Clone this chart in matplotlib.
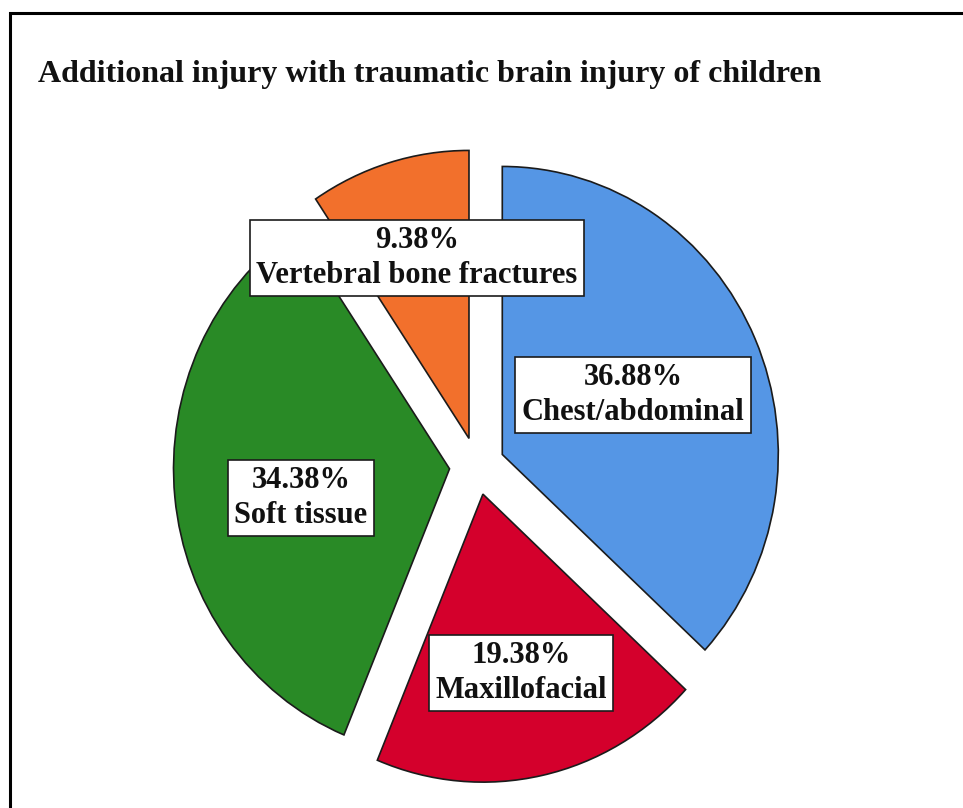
import matplotlib
matplotlib.use("Agg")
import matplotlib.pyplot as plt
from matplotlib.patches import Rectangle

# ---- data ----
categories = ["Chest/abdominal", "Maxillofacial", "Soft tissue", "Vertebral bone fractures"]
percentages = [36.88, 19.38, 34.38, 9.38]
colors = ["#5596E5", "#D4002C", "#298A26", "#F2702C"]
title = "Additional injury with traumatic brain injury of children"

# ---- layout (pixels) ----
W, H = 963, 808
cx, cy = 477, 466          # pie centre in pixels (from top-left)
rx, ry = 276, 288          # pie radii in pixels
label_px = [(633, 395), (521, 673), (301, 498), (417, 258)]

fig = plt.figure(figsize=(W / 100, H / 100), dpi=100)
fig.patch.set_facecolor("white")
ax = fig.add_axes([0, 0, 1, 1])

ax.pie(percentages, colors=colors, startangle=90, counterclock=False,
       explode=[0.1] * len(percentages), radius=1.0,
       wedgeprops=dict(edgecolor="#1b1b1b", linewidth=1.2))
ax.set_aspect("auto")
ax.set_xlim(-cx / rx, (W - cx) / rx)
ax.set_ylim((cy - H) / ry, cy / ry)
ax.axis("off")

serif = ["Liberation Serif", "DejaVu Serif"]

for (px, py), cat, pct in zip(label_px, categories, percentages):
    fig.text(px / W, 1 - py / H, f"{pct:.2f}%\n{cat}", ha="center", va="center",
             multialignment="center", family=serif, fontweight="bold",
             fontsize=22, linespacing=1.25, color="#111111",
             bbox=dict(boxstyle="square,pad=0.22", facecolor="white",
                       edgecolor="#1b1b1b", linewidth=1.2))

fig.text(38 / W, 1 - 82 / H, title, ha="left", va="baseline", family=serif,
         fontweight="bold", fontsize=23, color="#111111")

fig.patches.append(Rectangle((10 / W, -0.05), 1.1, 1 - 13 / H + 0.05,
                             transform=fig.transFigure, fill=False,
                             edgecolor="black", linewidth=2.2))

fig.savefig("out.png", dpi=100, facecolor="white")
